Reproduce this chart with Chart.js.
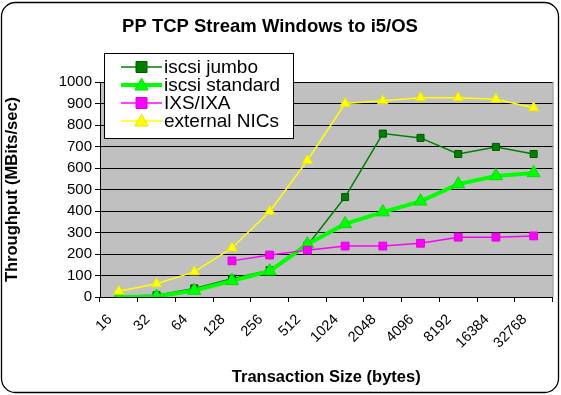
<!DOCTYPE html>
<html>
<head>
<meta charset="utf-8">
<script src="https://cdn.jsdelivr.net/npm/chart.js@4/dist/chart.umd.min.js"></script>
<style>
  html, body { margin: 0; padding: 0; background: #fff; }
  #wrap { width: 561px; height: 395px; }
</style>
</head>
<body>
<div id="wrap"><canvas id="chart" width="561" height="395"></canvas></div>
<script>
const categories = ['16','32','64','128','256','512','1024','2048','4096','8192','16384','32768'];
const iscsiJumbo = [3, 8, 40, 85, 125, 240, 465, 760, 740, 665, 698, 665];
const iscsiStandard = [0, 2, 30, 75, 120, 245, 340, 395, 445, 525, 563, 577];
const ixsIxa = [null, null, null, 168, 195, 218, 237, 237, 250, 278, 278, 284];
const externalNics = [27, 62, 117, 228, 398, 635, 900, 913, 927, 927, 920, 880];
const yTicks = [0, 100, 200, 300, 400, 500, 600, 700, 800, 900, 1000];
const chartTitle = 'PP TCP Stream Windows to i5/OS';

const FONT = "'Liberation Sans', Arial, sans-serif";

const series = [
  { label: 'iscsi jumbo', data: iscsiJumbo, color: '#008000', edge: '#005a00', width: 1.5, style: 'rect', r: 5, order: 4 },
  { label: 'iscsi standard', data: iscsiStandard, color: '#00ff00', edge: '#00e000', width: 4, style: 'triangle', r: 7.5, order: 3 },
  { label: 'IXS/IXA', data: ixsIxa, color: '#ff00ff', edge: '#e000e0', width: 1.5, style: 'rect', r: 5.5, order: 2 },
  { label: 'external NICs', data: externalNics, color: '#ffff00', edge: '#e8e800', width: 1.5, style: 'triangle', r: 6, order: 1 }
];

// white card with rounded border, grey plot area, title
const background = {
  id: 'background',
  beforeDraw(chart) {
    const { ctx, chartArea: a } = chart;
    ctx.save();
    ctx.fillStyle = '#fff';
    ctx.fillRect(0, 0, chart.width, chart.height);
    ctx.beginPath();
    ctx.roundRect(1.5, 2.5, 557, 390, 14);
    ctx.lineWidth = 1.3;
    ctx.strokeStyle = '#000';
    ctx.stroke();
    ctx.fillStyle = '#c0c0c0';
    ctx.fillRect(a.left, a.top, a.right - a.left, a.bottom - a.top);
    ctx.strokeStyle = '#808080';
    ctx.lineWidth = 1;
    ctx.beginPath();
    ctx.moveTo(a.right + 0.5, a.top);
    ctx.lineTo(a.right + 0.5, a.bottom);
    ctx.stroke();
    ctx.fillStyle = '#000';
    ctx.font = 'bold 18.5px ' + FONT;
    ctx.textAlign = 'center';
    ctx.textBaseline = 'middle';
    ctx.fillText(chartTitle, 270, 27);
    ctx.restore();
  }
};

function marker(ctx, s, x, y) {
  ctx.fillStyle = s.color;
  ctx.strokeStyle = s.edge;
  ctx.lineWidth = 1;
  ctx.beginPath();
  if (s.style === 'rect') {
    ctx.rect(x - s.r, y - s.r, s.r * 2, s.r * 2);
  } else {
    const h = s.r * 1.6;
    ctx.moveTo(x, y - h * 0.6);
    ctx.lineTo(x + s.r * 0.95, y + h * 0.45);
    ctx.lineTo(x - s.r * 0.95, y + h * 0.45);
    ctx.closePath();
  }
  ctx.fill();
  ctx.stroke();
}

// legend box overlapping the plot, like the original
const boxLegend = {
  id: 'boxLegend',
  afterDraw(chart) {
    const ctx = chart.ctx;
    ctx.save();
    ctx.fillStyle = '#fff';
    ctx.fillRect(104, 53, 189, 85);
    ctx.strokeStyle = '#000';
    ctx.lineWidth = 1;
    ctx.strokeRect(104.5, 53.5, 189, 85);
    series.forEach((s, i) => {
      const y = 67 + i * 18;
      ctx.strokeStyle = s.color;
      ctx.lineWidth = s.width;
      ctx.beginPath();
      ctx.moveTo(121, y);
      ctx.lineTo(162, y);
      ctx.stroke();
      marker(ctx, Object.assign({}, s, { r: s.style === 'rect' ? 5.5 : 7 }), 141.5, y);
      ctx.fillStyle = '#000';
      ctx.font = '19px ' + FONT;
      ctx.textBaseline = 'middle';
      ctx.textAlign = 'left';
      ctx.fillText(s.label, 164, y + 1);
    });
    ctx.restore();
  }
};

new Chart(document.getElementById('chart'), {
  type: 'line',
  data: {
    labels: categories,
    datasets: series.map(s => ({
      label: s.label,
      data: s.data,
      order: s.order,
      borderColor: s.color,
      backgroundColor: s.color,
      borderWidth: s.width,
      pointStyle: s.style,
      pointRadius: s.r,
      pointBackgroundColor: s.color,
      pointBorderColor: s.edge,
      pointBorderWidth: 1,
      tension: 0,
      spanGaps: false
    }))
  },
  options: {
    responsive: false,
    animation: false,
    layout: { padding: { left: 0, right: 6, top: 82, bottom: 0 } },
    plugins: {
      legend: { display: false },
      tooltip: { enabled: false },
      title: { display: false }
    },
    scales: {
      x: {
        offset: true,
        grid: { offset: true, drawOnChartArea: false, drawTicks: true, tickLength: 5, color: '#000' },
        border: { color: '#000', width: 1 },
        ticks: {
          color: '#000',
          font: { family: FONT, size: 14.5 },
          minRotation: 45, maxRotation: 45,
          autoSkip: false,
          labelOffset: -9,
          padding: 9
        },
        title: {
          display: true,
          text: 'Transaction Size (bytes)',
          color: '#000',
          font: { family: FONT, size: 16.5, weight: 'bold' },
          padding: { top: 0, bottom: 8 }
        },
        afterFit(scale) { scale.height = 98; }
      },
      y: {
        min: 0, max: 1000,
        afterBuildTicks(scale) { scale.ticks = yTicks.map(v => ({ value: v })); },
        grid: { color: '#000', lineWidth: 1, tickLength: 5, drawTicks: true },
        border: { color: '#000', width: 1 },
        ticks: {
          color: '#000',
          font: { family: FONT, size: 15 },
          padding: 3,
          callback: v => String(v)
        },
        title: {
          display: true,
          text: 'Throughput (MBits/sec)',
          color: '#000',
          font: { family: FONT, size: 16.5, weight: 'bold' },
          padding: { top: 3, bottom: 0 }
        },
        afterFit(scale) { scale.width = 100; }
      }
    }
  },
  plugins: [background, boxLegend]
});
</script>
</body>
</html>
